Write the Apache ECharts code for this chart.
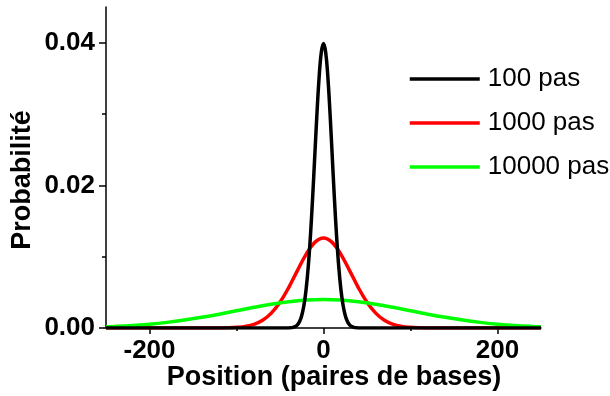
<!DOCTYPE html>
<html>
<head>
<meta charset="utf-8">
<script src="https://cdn.jsdelivr.net/npm/echarts@6/dist/echarts.min.js"></script>
<style>html,body{margin:0;padding:0;background:#fff}#c{width:610px;height:396px}</style>
</head>
<body>
<div id="c"></div>
<script>
const seriesNames = ['100 pas', '1000 pas', '10000 pas'];
const xTicks = [-200, 0, 200];
const xMinorTicks = [-100, 100];
const yTicks = [0, 0.02, 0.04];
const yMinorTicks = [0.01, 0.03];

const pos100 = [-250, -50, -45, -42.5, -40, -37.5, -35, -32.5, -30, -27.5, -25, -22.5, -20, -17.5, -15, -12.5, -10, -7.5, -5, -2.5, 0,
  2.5, 5, 7.5, 10, 12.5, 15, 17.5, 20, 22.5, 25, 27.5, 30, 32.5, 35, 37.5, 40, 42.5, 45, 50, 250];
const prob100 = [0, 0, 0, 0.00001, 0.00001, 0.00004, 0.00009, 0.00020, 0.00044, 0.00091, 0.00175, 0.00318, 0.00540, 0.00863, 0.01295, 0.01826, 0.02420, 0.03011, 0.03521, 0.03866, 0.03989,
  0.03866, 0.03521, 0.03011, 0.02420, 0.01826, 0.01295, 0.00863, 0.00540, 0.00318, 0.00175, 0.00091, 0.00044, 0.00020, 0.00009, 0.00004, 0.00001, 0.00001, 0, 0, 0];

const pos1000 = [-250, -140, -130, -120, -110, -100, -90, -80, -70, -60, -50, -40, -30, -20, -10, 0,
  10, 20, 30, 40, 50, 60, 70, 80, 90, 100, 110, 120, 130, 140, 250];
const prob1000 = [0, 0, 0, 0.00001, 0.00003, 0.00009, 0.00022, 0.00051, 0.00109, 0.00209, 0.00362, 0.00567, 0.00805, 0.01033, 0.01200, 0.01262,
  0.01200, 0.01033, 0.00805, 0.00567, 0.00362, 0.00209, 0.00109, 0.00051, 0.00022, 0.00009, 0.00003, 0.00001, 0, 0, 0];

const pos10000 = [-250, -240, -220, -200, -180, -160, -140, -120, -100, -80, -60, -40, -20, 0,
  20, 40, 60, 80, 100, 120, 140, 160, 180, 200, 220, 240, 250];
const prob10000 = [0.00018, 0.00022, 0.00035, 0.00054, 0.00079, 0.00111, 0.00150, 0.00194, 0.00242, 0.00290, 0.00333, 0.00368, 0.00391, 0.00399,
  0.00391, 0.00368, 0.00333, 0.00290, 0.00242, 0.00194, 0.00150, 0.00111, 0.00079, 0.00054, 0.00035, 0.00022, 0.00018];

const zip = (xs, ys) => xs.map((x, i) => [x, ys[i]]);
const FONT = '"Liberation Sans", Arial, Helvetica, sans-serif';

const chart = echarts.init(document.getElementById('c'), null, {renderer: 'canvas'});
chart.setOption({
  animation: false,
  backgroundColor: '#fff',
  grid: {left: 106, right: 69, top: 7, bottom: 68},
  legend: {
    orient: 'vertical', left: 403, top: 61,
    itemWidth: 70, itemHeight: 26, itemGap: 18,
    itemStyle: {opacity: 0},
    lineStyle: {width: 3.5},
    textStyle: {fontFamily: FONT, fontSize: 26, color: '#000', padding: [0, 0, 0, 3]},
    data: seriesNames
  },
  xAxis: [{
    type: 'value', min: -250, max: 250,
    axisLine: {show: true, onZero: false, lineStyle: {color: '#000', width: 1.5}},
    axisTick: {show: true, length: 6, customValues: xTicks, lineStyle: {color: '#000', width: 1.5}},
    axisLabel: {customValues: xTicks, margin: 10, color: '#000', fontFamily: FONT, fontSize: 26, fontWeight: 'bold'},
    splitLine: {show: false}
  }, {
    type: 'value', min: -250, max: 250, position: 'bottom',
    axisLine: {show: false, onZero: false},
    axisTick: {show: true, length: 3, customValues: xMinorTicks, lineStyle: {color: '#000', width: 1.5}},
    axisLabel: {show: false},
    splitLine: {show: false}
  }],
  yAxis: [{
    type: 'value', min: 0, max: 0.045,
    axisLine: {show: true, onZero: false, lineStyle: {color: '#000', width: 1.5}},
    axisTick: {show: true, length: 7, customValues: yTicks, lineStyle: {color: '#000', width: 1.5}},
    axisLabel: {customValues: yTicks, margin: 11, color: '#000', fontFamily: FONT, fontSize: 26, fontWeight: 'bold',
      formatter: v => v.toFixed(2)},
    splitLine: {show: false}
  }, {
    type: 'value', min: 0, max: 0.045, position: 'left',
    axisLine: {show: false, onZero: false},
    axisTick: {show: true, length: 4, customValues: yMinorTicks, lineStyle: {color: '#000', width: 1.5}},
    axisLabel: {show: false},
    splitLine: {show: false}
  }],
  graphic: [{
    type: 'text', x: 334, y: 378,
    style: {text: 'Position (paires de bases)', fill: '#000', font: 'bold 27px ' + FONT, textAlign: 'center', textVerticalAlign: 'middle'}
  }, {
    type: 'text', x: 23, y: 180, rotation: Math.PI / 2,
    style: {text: 'Probabilité', fill: '#000', font: 'bold 27px ' + FONT, textAlign: 'center', textVerticalAlign: 'middle'}
  }],
  series: [{
    name: seriesNames[0], type: 'line', z: 5, smooth: 0.4, showSymbol: false, symbol: 'none',
    data: zip(pos100, prob100), itemStyle: {color: '#000000'}, lineStyle: {color: '#000000', width: 3.5}
  }, {
    name: seriesNames[1], type: 'line', z: 3, smooth: 0.4, showSymbol: false, symbol: 'none',
    data: zip(pos1000, prob1000), itemStyle: {color: '#ff0000'}, lineStyle: {color: '#ff0000', width: 3.5}
  }, {
    name: seriesNames[2], type: 'line', z: 4, smooth: 0.4, showSymbol: false, symbol: 'none',
    data: zip(pos10000, prob10000), itemStyle: {color: '#00ff00'}, lineStyle: {color: '#00ff00', width: 3.5}
  }]
});
</script>
</body>
</html>
